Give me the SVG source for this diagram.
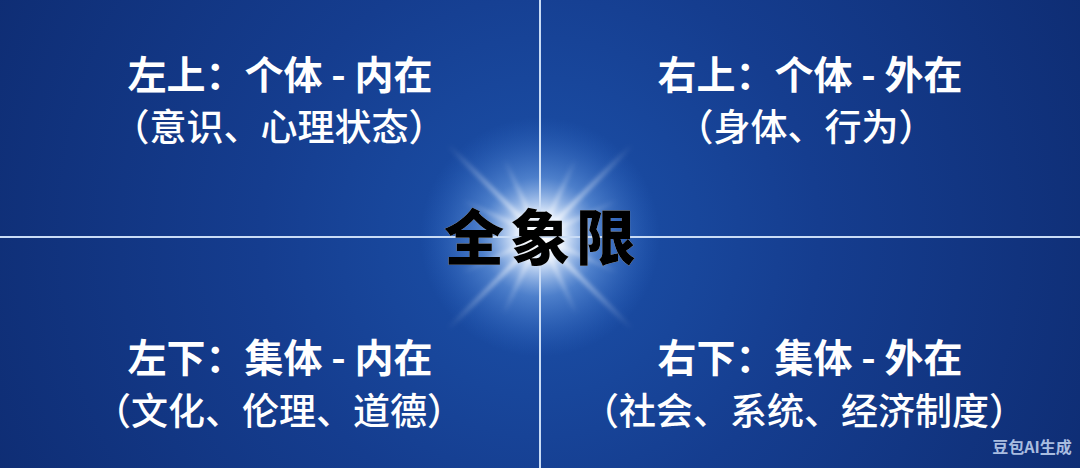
<svg xmlns="http://www.w3.org/2000/svg" width="1080" height="468" viewBox="0 0 1080 468">
<defs>
<radialGradient id="bg" cx="540" cy="237" r="620" gradientUnits="userSpaceOnUse">
<stop offset="0" stop-color="#1c52ab"/>
<stop offset="0.45" stop-color="#153d8f"/>
<stop offset="1" stop-color="#0e2c72"/>
</radialGradient>
<radialGradient id="glow" cx="540" cy="237" r="120" gradientUnits="userSpaceOnUse">
<stop offset="0" stop-color="#ffffff" stop-opacity="1"/>
<stop offset="0.2" stop-color="#eaf3ff" stop-opacity="0.95"/>
<stop offset="0.5" stop-color="#7fb0f0" stop-opacity="0.5"/>
<stop offset="1" stop-color="#3a78d8" stop-opacity="0"/>
</radialGradient>
<linearGradient id="ray" x1="0" y1="0" x2="1" y2="0">
<stop offset="0" stop-color="#ffffff" stop-opacity="0"/>
<stop offset="0.5" stop-color="#ffffff" stop-opacity="0.85"/>
<stop offset="1" stop-color="#ffffff" stop-opacity="0"/>
</linearGradient>
<filter id="blur" x="-50%" y="-50%" width="200%" height="200%"><feGaussianBlur stdDeviation="2"/></filter>
<filter id="tglow" x="-20%" y="-40%" width="140%" height="180%">
<feGaussianBlur in="SourceAlpha" stdDeviation="3"/>
<feFlood flood-color="#ffffff" flood-opacity="0.9"/>
<feComposite operator="in" in2="SourceAlpha"/>
</filter>
<style>
.h{font-family:"Noto Sans CJK SC","Noto Sans",sans-serif;font-weight:700;font-size:39px;fill:#ffffff;text-anchor:middle}
.s{font-family:"Noto Sans CJK SC","Noto Sans",sans-serif;font-weight:500;font-size:37px;fill:#ffffff;text-anchor:middle}
.line{stroke:#c9dcf6;stroke-width:2}
.t{font-family:"Noto Sans CJK SC",sans-serif;font-weight:900;font-size:60px;letter-spacing:6px;text-anchor:middle}
</style>
</defs>
<rect width="1080" height="468" fill="url(#bg)"/>
<g id="glow-center">
<circle cx="540" cy="237" r="120" fill="url(#glow)"/>
<g filter="url(#blur)">
<rect x="410" y="235" width="260" height="4" fill="url(#ray)" transform="rotate(45 540 237)"/>
<rect x="410" y="235" width="260" height="4" fill="url(#ray)" transform="rotate(-45 540 237)"/>
<rect x="455" y="235" width="170" height="3" fill="url(#ray)" transform="rotate(65 540 237)"/>
<rect x="455" y="235" width="170" height="3" fill="url(#ray)" transform="rotate(-65 540 237)"/>
<rect x="455" y="235" width="170" height="3" fill="url(#ray)" transform="rotate(25 540 237)"/>
<rect x="455" y="235" width="170" height="3" fill="url(#ray)" transform="rotate(-25 540 237)"/>
</g>
</g>
<g id="connectors">
<line class="line" x1="540" y1="0" x2="540" y2="468"/>
<line class="line" x1="0" y1="237" x2="1080" y2="237"/>
</g>
<g id="top-left">
<text class="h" x="280" y="89">左上：个体 - 内在</text>
<text class="s" x="279" y="141">（意识、心理状态）</text>
</g>
<g id="top-right">
<text class="h" x="810" y="89">右上：个体 - 外在</text>
<text class="s" x="806" y="141">（身体、行为）</text>
</g>
<g id="bottom-left">
<text class="h" x="280" y="372">左下：集体 - 内在</text>
<text class="s" x="279" y="425">（文化、伦理、道德）</text>
</g>
<g id="bottom-right">
<text class="h" x="810" y="372">右下：集体 - 外在</text>
<text class="s" x="804" y="425">（社会、系统、经济制度）</text>
</g>
<g id="center-title">
<text class="t" x="543" y="260" fill="#ffffff" filter="url(#tglow)">全象限</text>
<text class="t" x="543" y="260" fill="#000000">全象限</text>
</g>
<text x="1032" y="453" text-anchor="middle" font-family="'Noto Sans CJK SC',sans-serif" font-weight="700" font-size="16" fill="#a9bde0">豆包AI生成</text>
</svg>
